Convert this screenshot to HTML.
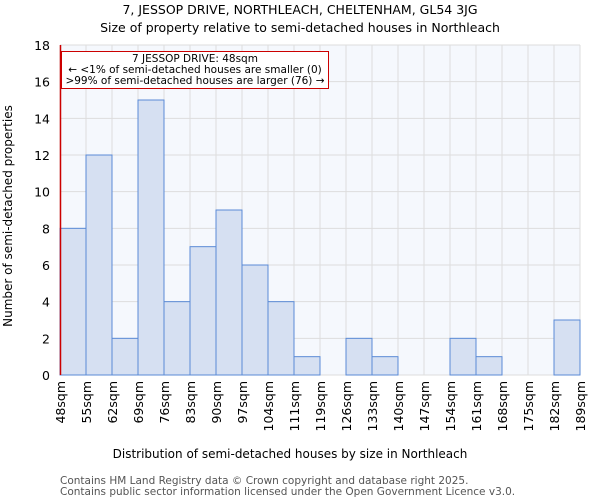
<!DOCTYPE html>
<html><head><meta charset="utf-8"><style>
body{margin:0;background:#fff;font-family:"DejaVu Sans","Liberation Sans",sans-serif;}
</style></head><body>
<svg width="600" height="500" xmlns="http://www.w3.org/2000/svg" font-family="DejaVu Sans, Liberation Sans, sans-serif">
<text x="300" y="14" text-anchor="middle" font-size="12.5">7, JESSOP DRIVE, NORTHLEACH, CHELTENHAM, GL54 3JG</text>
<text x="300" y="32" text-anchor="middle" font-size="12.5">Size of property relative to semi-detached houses in Northleach</text>
<g id="grid"></g><g id="bars"></g><g id="axes"></g>
<text transform="translate(12,216) rotate(-90)" text-anchor="middle" font-size="12">Number of semi-detached properties</text>
<text x="290" y="458" text-anchor="middle" font-size="12">Distribution of semi-detached houses by size in Northleach</text>
<text x="60" y="484" font-size="10.5" fill="#555">Contains HM Land Registry data © Crown copyright and database right 2025.</text>
<text x="60" y="495" font-size="10.5" fill="#555">Contains public sector information licensed under the Open Government Licence v3.0.</text>
<line x1="60.5" y1="45" x2="60.5" y2="375" stroke="#cc0000" stroke-width="1.5"/>
<rect x="61.5" y="51.5" width="267" height="37" fill="#fff" stroke="#cc0000"/>
<text x="195" y="62" text-anchor="middle" font-size="10.5">7 JESSOP DRIVE: 48sqm</text>
<text x="195" y="73" text-anchor="middle" font-size="10.5">← &lt;1% of semi-detached houses are smaller (0)</text>
<text x="195" y="84" text-anchor="middle" font-size="10.5">&gt;99% of semi-detached houses are larger (76) →</text>
</svg>
<script>
const categories=["48sqm","55sqm","62sqm","69sqm","76sqm","83sqm","90sqm","97sqm","104sqm","111sqm","119sqm","126sqm","133sqm","140sqm","147sqm","154sqm","161sqm","168sqm","175sqm","182sqm"];
const tickLabels=["48sqm","55sqm","62sqm","69sqm","76sqm","83sqm","90sqm","97sqm","104sqm","111sqm","119sqm","126sqm","133sqm","140sqm","147sqm","154sqm","161sqm","168sqm","175sqm","182sqm","189sqm"];
const counts=[8,12,2,15,4,7,9,6,4,1,0,2,1,0,0,2,1,0,0,3];
const yTicks=[0,2,4,6,8,10,12,14,16,18];
const X0=60,X1=580,Y0=375,Y1=45,YMAX=18;
const NS="http://www.w3.org/2000/svg";
const bw=(X1-X0)/counts.length;
const xs=i=>X0+i*bw;
const ys=v=>Y0-(v/YMAX)*(Y0-Y1);
function mk(t,a,p){const e=document.createElementNS(NS,t);for(const k in a)e.setAttribute(k,a[k]);document.getElementById(p).appendChild(e);return e;}
const grid=mk("rect",{x:X0,y:Y1,width:X1-X0,height:Y0-Y1,fill:"#f5f8fd"},"grid");


yTicks.forEach(v=>{const l=mk("line",{x1:X0,x2:X1,y1:ys(v),y2:ys(v),stroke:"#ddd"},"grid");


const t=mk("text",{x:X0-10,y:ys(v)+5,"text-anchor":"end","font-size":"12.5"},"axes");t.textContent=v;

});
for(let i=0;i<=counts.length;i++){const l=mk("line",{x1:xs(i),x2:xs(i),y1:Y1,y2:Y0,stroke:"#ddd"},"grid");

}
counts.forEach((v,i)=>{if(v<=0)return;const r=mk("rect",{x:xs(i),y:ys(v),width:bw,height:Y0-ys(v),fill:"#d6e0f2",stroke:"#5a8ad6","stroke-width":1},"bars");

});
tickLabels.forEach((s,i)=>{const x=xs(i);const t=mk("text",{transform:`translate(${x+5},${381}) rotate(-90)`,"text-anchor":"end","font-size":"12.5"},"axes");t.textContent=s;

});
</script>
</body></html>
